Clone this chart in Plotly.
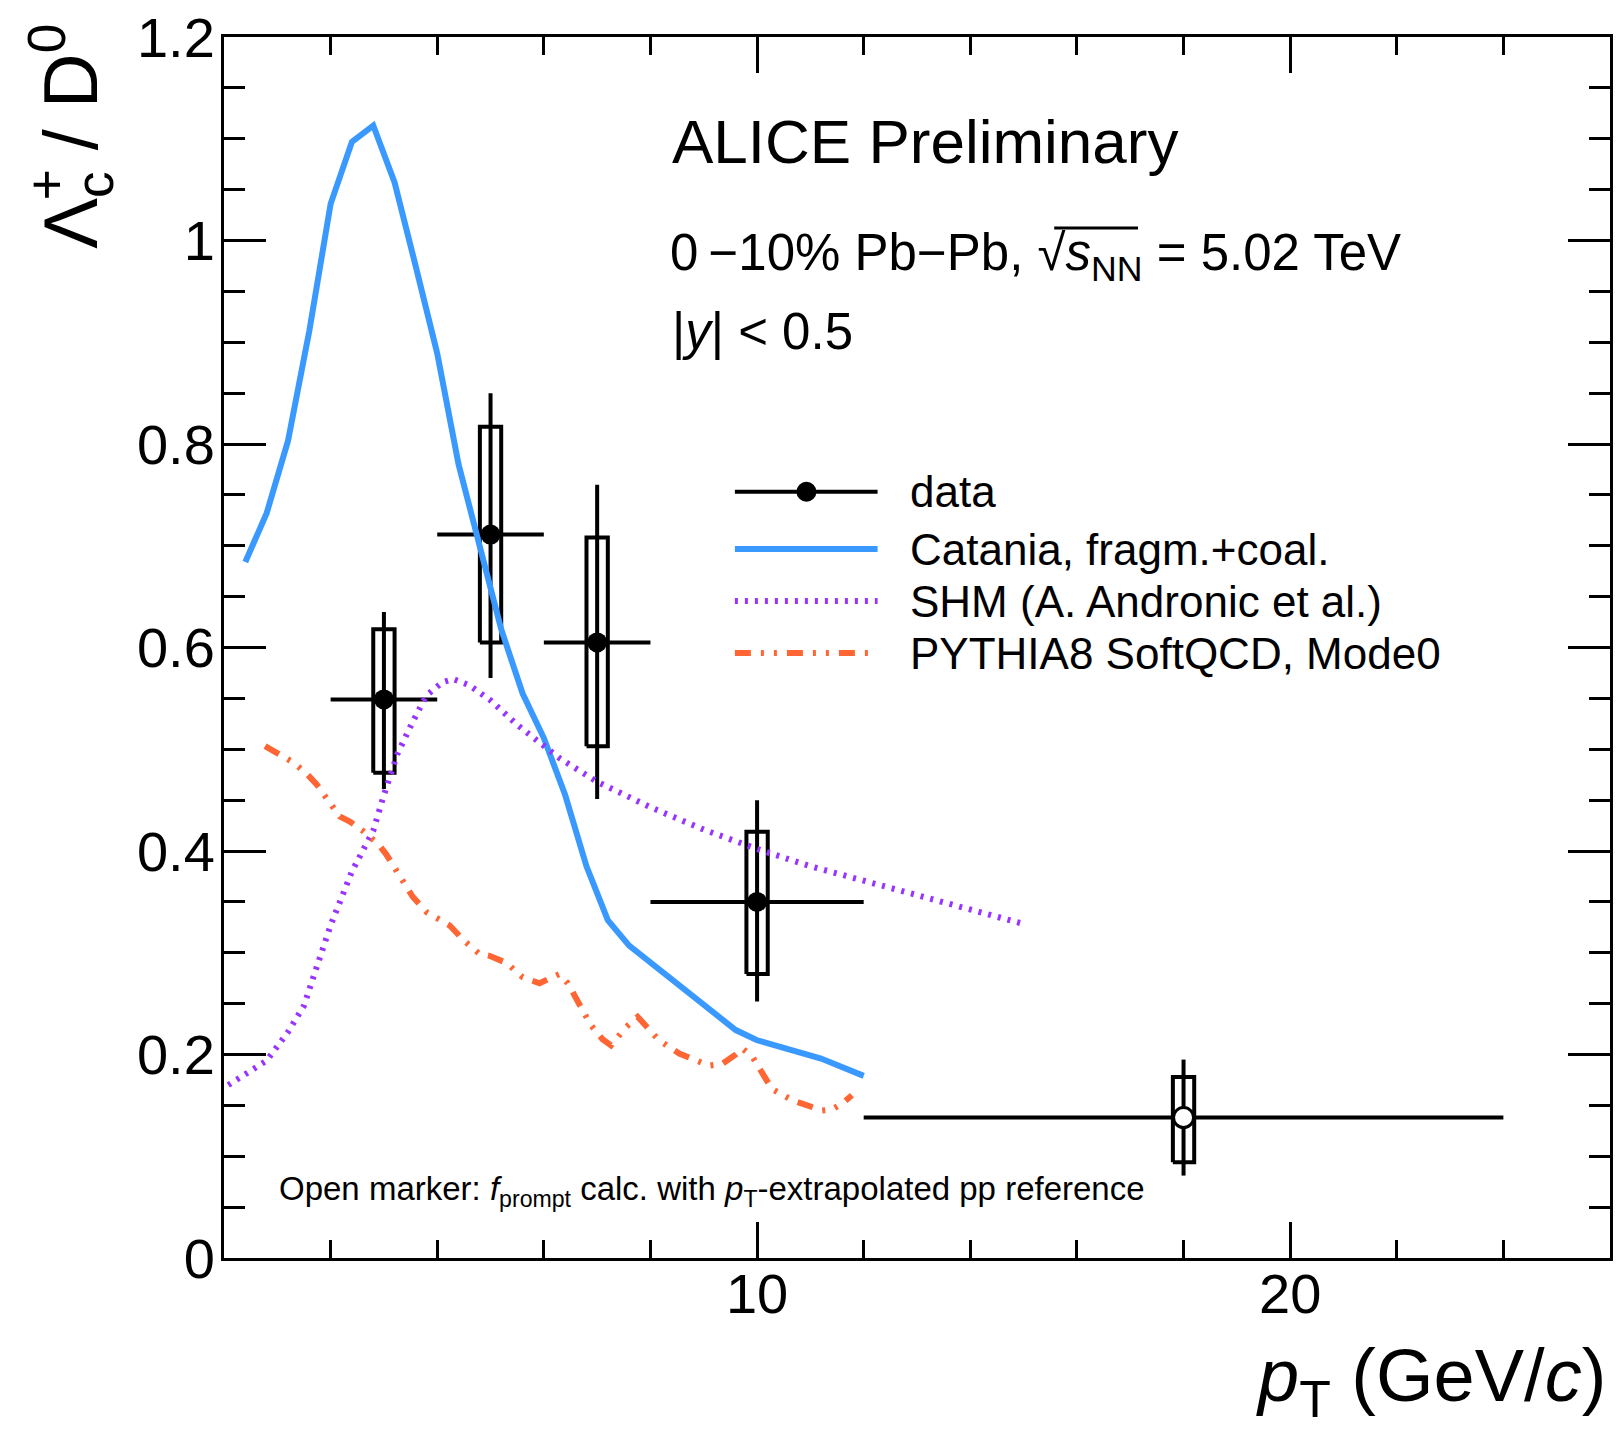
import plotly.graph_objects as go

# ---------------- data ----------------
pt_center = [3, 5, 7, 10, 18]
pt_low = [2, 4, 6, 8, 12]
pt_high = [4, 6, 8, 12, 24]
ratio = [0.549, 0.711, 0.605, 0.350, 0.138]
stat_up = [0.086, 0.139, 0.155, 0.100, 0.057]
stat_dn = [0.088, 0.141, 0.154, 0.098, 0.057]
sys_up = [0.069, 0.106, 0.103, 0.069, 0.040]
sys_dn = [0.072, 0.106, 0.102, 0.071, 0.044]
open_marker = [False, False, False, False, True]

catania_x = [0.4, 0.8, 1.2, 1.6, 2.0, 2.4, 2.8, 3.2, 3.6, 4.0, 4.4, 4.8, 5.2,
             5.6, 6.0, 6.4, 6.8, 7.2, 7.6, 9.6, 10.0, 11.2, 12.0]
catania_y = [0.684, 0.732, 0.803, 0.911, 1.036, 1.097, 1.113, 1.057, 0.974,
             0.889, 0.780, 0.699, 0.618, 0.555, 0.511, 0.455, 0.385, 0.332,
             0.307, 0.224, 0.214, 0.196, 0.179]

shm_x = [0.08, 0.8, 1.2, 1.5, 1.67, 2.0, 2.4, 2.8, 3.0, 3.25, 3.54, 3.8, 4.1,
         4.3, 4.6, 5.0, 5.5, 6.0, 6.3, 7.0, 8.0, 9.0, 10.0, 11.0, 12.0, 13.0,
         14.0, 14.95]
shm_y = [0.170, 0.194, 0.222, 0.248, 0.275, 0.327, 0.380, 0.420, 0.455, 0.495,
         0.527, 0.553, 0.566, 0.569, 0.563, 0.548, 0.524, 0.503, 0.491, 0.468,
         0.443, 0.421, 0.402, 0.385, 0.371, 0.357, 0.343, 0.329]

pythia_x = [0.77, 0.99, 1.3, 1.55, 1.73, 2.17, 2.36, 2.6, 2.89, 3.04, 3.42,
            3.54, 3.8, 4.04, 4.23, 4.5, 4.79, 4.98, 5.3, 5.6, 5.92, 6.12, 6.29,
            6.45, 6.88, 7.1, 7.26, 7.54, 7.76, 8.16, 8.54, 9.1, 9.35, 9.6, 9.72,
            9.91, 10.28, 10.66, 11.22, 11.41, 11.6, 11.78]
pythia_y = [0.503, 0.497, 0.487, 0.476, 0.466, 0.434, 0.429, 0.420, 0.407,
            0.397, 0.365, 0.355, 0.340, 0.332, 0.327, 0.312, 0.299, 0.297, 0.290,
            0.276, 0.270, 0.275, 0.279, 0.270, 0.229, 0.215, 0.209, 0.227, 0.237,
            0.214, 0.201, 0.189, 0.191, 0.200, 0.206, 0.198, 0.166, 0.155, 0.145,
            0.146, 0.152, 0.160]

legend_labels = ["data", "Catania, fragm.+coal.", "SHM (A. Andronic et al.)",
                 "PYTHIA8 SoftQCD, Mode0"]

x_ticks = [10, 20]

# ---------------- styles ----------------
FONT = "Liberation Sans, Arial, Helvetica, sans-serif"
BLUE = "#3A99FF"
PURPLE = "#9933FF"
ORANGE = "#FF6633"
BOX_HALF = 0.2

fig = go.Figure()

# systematic boxes
bx, by = [], []
for c, r, su, sd in zip(pt_center, ratio, sys_up, sys_dn):
    lo, hi = r - sd, r + su
    bx += [c - BOX_HALF, c + BOX_HALF, c + BOX_HALF, c - BOX_HALF, c - BOX_HALF, None]
    by += [lo, lo, hi, hi, lo, None]
fig.add_trace(go.Scatter(x=bx, y=by, mode="lines",
                         line=dict(color="black", width=4), showlegend=False,
                         hoverinfo="skip"))

# data points with stat errors and bin widths
ex_p = [h - c for h, c in zip(pt_high, pt_center)]
ex_m = [c - l for c, l in zip(pt_center, pt_low)]
fig.add_trace(go.Scatter(
    x=pt_center, y=ratio, mode="markers",
    marker=dict(size=20,
                color=["white" if o else "black" for o in open_marker],
                line=dict(color="black", width=[3 if o else 0 for o in open_marker]),
                symbol="circle"),
    error_x=dict(type="data", symmetric=False, array=ex_p, arrayminus=ex_m,
                 color="black", thickness=4, width=0),
    error_y=dict(type="data", symmetric=False, array=stat_up, arrayminus=stat_dn,
                 color="black", thickness=4, width=0),
    showlegend=False))

# models
fig.add_trace(go.Scatter(x=catania_x, y=catania_y, mode="lines",
                         line=dict(color=BLUE, width=6), showlegend=False))
fig.add_trace(go.Scatter(x=shm_x, y=shm_y, mode="lines",
                         line=dict(color=PURPLE, width=6, dash="3px,7px"),
                         showlegend=False))
fig.add_trace(go.Scatter(x=pythia_x, y=pythia_y, mode="lines",
                         line=dict(color=ORANGE, width=6,
                                   dash="16px,10px,3px,10px,3px,10px"),
                         showlegend=False))

# ---------------- layout geometry (pixels) ----------------
W, H = 1619, 1430
L, R, T, B = 224, 1613, 37, 1258


def px(xp):
    return (xp - L) / (R - L)


def py(yp):
    return (B - yp) / (B - T)


annotations = []
shapes = []

# legend (manual)
leg_y = [491.7, 549, 601, 653]
lx0, lx1 = px(736), px(879)
shapes.append(dict(type="line", xref="paper", yref="paper", x0=lx0, x1=lx1,
                   y0=py(leg_y[0]), y1=py(leg_y[0]),
                   line=dict(color="black", width=4)))
shapes.append(dict(type="circle", xref="paper", yref="paper",
                   x0=px(807.7 - 10), x1=px(807.7 + 10),
                   y0=py(leg_y[0] + 10), y1=py(leg_y[0] - 10),
                   fillcolor="black", line=dict(color="black", width=0)))
shapes.append(dict(type="line", xref="paper", yref="paper", x0=lx0, x1=lx1,
                   y0=py(leg_y[1]), y1=py(leg_y[1]),
                   line=dict(color=BLUE, width=6)))
shapes.append(dict(type="line", xref="paper", yref="paper", x0=lx0, x1=lx1,
                   y0=py(leg_y[2]), y1=py(leg_y[2]),
                   line=dict(color=PURPLE, width=6, dash="3px,7px")))
shapes.append(dict(type="line", xref="paper", yref="paper", x0=lx0, x1=lx1,
                   y0=py(leg_y[3]), y1=py(leg_y[3]),
                   line=dict(color=ORANGE, width=6,
                             dash="16px,10px,3px,10px,3px,10px")))
for lab, yy in zip(legend_labels, leg_y):
    annotations.append(dict(text=lab, xref="paper", yref="paper", x=px(909),
                            y=py(yy), xanchor="left", yanchor="middle",
                            showarrow=False, font=dict(family=FONT, size=44,
                                                       color="black")))

# header texts
annotations.append(dict(text="ALICE Preliminary", xref="paper", yref="paper",
                        x=px(671), y=py(163 - 0.3465 * 62), xanchor="left",
                        yanchor="middle", showarrow=False,
                        font=dict(family=FONT, size=62, color="black")))
annotations.append(dict(
    text="0\u2009\u221210% Pb\u2212Pb, \u221a<i>s</i><sub>NN</sub> = 5.02 TeV",
    xref="paper", yref="paper", x=px(669), y=py(274 - 0.3465 * 51),
    xanchor="left", yanchor="middle", showarrow=False,
    font=dict(family=FONT, size=51, color="black")))
# overline of the square root
shapes.append(dict(type="line", xref="paper", yref="paper",
                   x0=px(1056), x1=px(1140), y0=py(228), y1=py(228),
                   line=dict(color="black", width=3)))
annotations.append(dict(text="|<i>y</i>| < 0.5", xref="paper", yref="paper",
                        x=px(671), y=py(349 - 0.3465 * 51), xanchor="left",
                        yanchor="middle", showarrow=False,
                        font=dict(family=FONT, size=51, color="black")))
annotations.append(dict(
    text="Open marker: <i>f</i><sub>prompt</sub> calc. with <i>p</i><sub>T</sub>"
         "-extrapolated pp reference",
    xref="paper", yref="paper", x=px(277), y=py(1202 - 0.3465 * 33),
    xanchor="left", yanchor="middle", showarrow=False,
    font=dict(family=FONT, size=33, color="black")))

# axis titles
annotations.append(dict(
    text="\u039b<sub>c</sub> / D<sup>0</sup>", xref="paper",
    yref="paper", x=px(70), y=py(251), xanchor="center", yanchor="bottom",
    textangle=-90, showarrow=False,
    font=dict(family=FONT, size=76, color="black")))
annotations.append(dict(
    text="+", xref="paper", yref="paper", x=px(46), y=py(184),
    xanchor="center", yanchor="middle", textangle=-90, showarrow=False,
    font=dict(family=FONT, size=54, color="black")))
annotations.append(dict(
    text="<i>p</i><sub>T</sub> (GeV/<i>c</i>)", xref="paper", yref="paper",
    x=px(1611), y=py(1381), xanchor="right", yanchor="middle",
    showarrow=False, font=dict(family=FONT, size=74, color="black")))

axis_common = dict(showline=True, linecolor="black", linewidth=3,
                   mirror="ticks", ticks="inside", tickcolor="black",
                   tickwidth=3, showgrid=False, zeroline=False,
                   tickfont=dict(family=FONT, size=56, color="black"))

fig.update_layout(
    width=W, height=H, autosize=False,
    margin=dict(l=L, r=W - R, t=T, b=H - B, pad=0),
    paper_bgcolor="white", plot_bgcolor="white",
    showlegend=False,
    xaxis=dict(range=[0, 26], tickmode="array", tickvals=x_ticks,
               ticktext=[str(v) for v in x_ticks], ticklen=36,
               ticklabelstandoff=-15,
               minor=dict(dtick=2, tick0=0, ticks="inside", ticklen=18,
                          tickwidth=3, tickcolor="black", showgrid=False),
               **axis_common),
    yaxis=dict(range=[0, 1.2], tick0=0, dtick=0.2, ticklen=42,
               ticklabelstandoff=-5,
               minor=dict(dtick=0.05, tick0=0, ticks="inside", ticklen=21,
                          tickwidth=3, tickcolor="black", showgrid=False),
               **axis_common),
    annotations=annotations, shapes=shapes,
)

fig.write_html("out.html", config={"displayModeBar": False},
               post_script="document.body.style.margin='0';"
                           "document.body.style.overflow='hidden';")
